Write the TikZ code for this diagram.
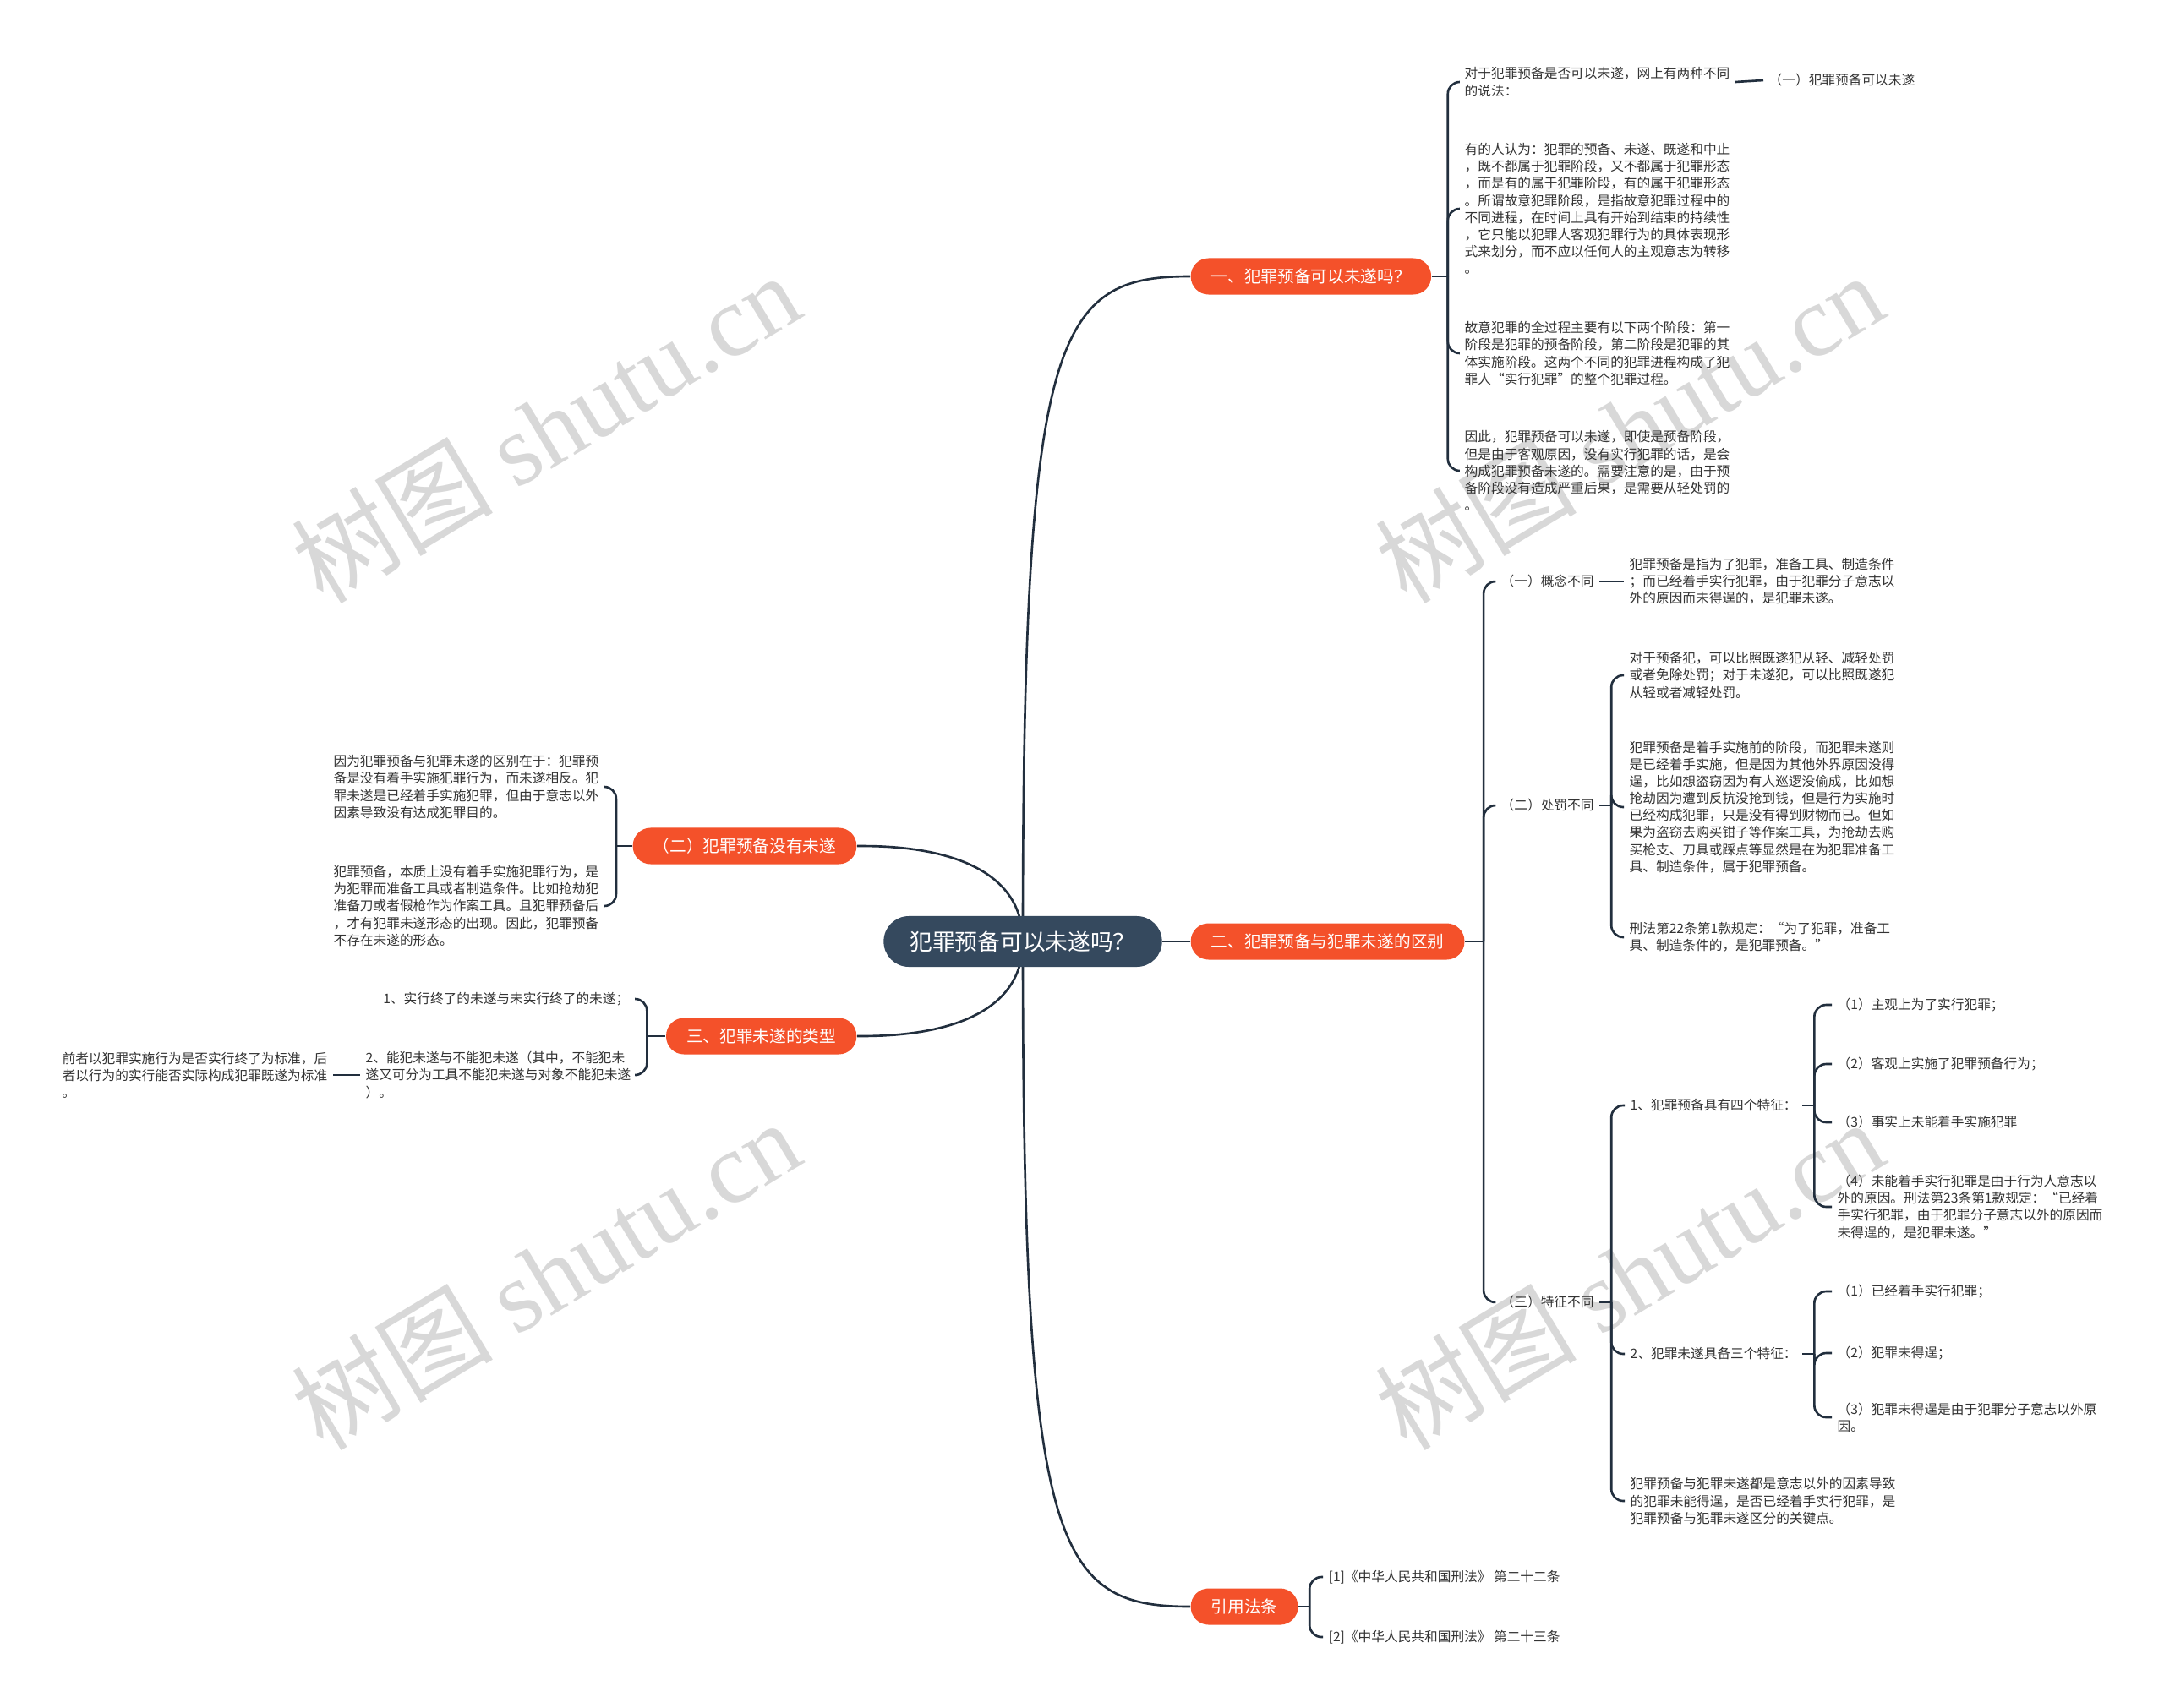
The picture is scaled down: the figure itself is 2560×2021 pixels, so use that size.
\documentclass[tikz,border=0pt]{standalone}
\usepackage{fontspec}
\setmainfont{Noto Sans CJK SC}
\newfontfamily\wmserif{Liberation Serif}
\usetikzlibrary{calc,backgrounds}
\definecolor{rootcol}{RGB}{53,73,94}
\definecolor{topiccol}{RGB}{244,81,42}
\definecolor{linecol}{RGB}{34,47,62}
\definecolor{textcol}{RGB}{51,51,51}
\definecolor{wmcol}{RGB}{216,216,216}
\tikzset{
  rootnode/.style={fill=rootcol,text=white,rounded corners=8.5pt,minimum height=0.6cm,inner xsep=0.31cm,font=\fontsize{7.6}{9}\selectfont},
  topicnode/.style={fill=topiccol,text=white,rounded corners=6pt,minimum height=0.43cm,inner xsep=0.24cm,font=\fontsize{5.6}{7}\selectfont},
  leaf/.style={align=left,inner xsep=0.06cm,inner ysep=0.02cm,text=textcol,font=\fontsize{4.46}{5.72}\selectfont},
  link/.style={draw=linecol,line width=0.75pt},
  brace/.style={link,rounded corners=4pt},
  watermark/.style={text=wmcol,rotate=31,inner sep=0,font=\fontsize{34}{40}\selectfont}
}
\begin{document}
\begin{tikzpicture}[x=0.01cm,y=-0.01cm]
\useasboundingbox (0,0) rectangle (2560,2021);
% central topic and main branches
\node[rootnode] (root) at (1210,1114) {犯罪预备可以未遂吗？};
\node[topicnode,anchor=west] (n1) at (1408,327) {一、犯罪预备可以未遂吗？};
\node[topicnode,anchor=west] (n2) at (1408,1114) {二、犯罪预备与犯罪未遂的区别};
\node[topicnode,anchor=east] (n3) at (1014,1001) {（二）犯罪预备没有未遂};
\node[topicnode,anchor=east] (n4) at (1014,1226) {三、犯罪未遂的类型};
\node[topicnode,anchor=west] (n5) at (1408,1901) {引用法条};
% branch one
\node[leaf,anchor=west] (a1) at (1726,97) {对于犯罪预备是否可以未遂，网上有两种不同\\的说法：};
\node[leaf,anchor=west] (a11) at (2086,95) {（一）犯罪预备可以未遂};
\node[leaf,anchor=west] (a2) at (1726,247) {有的人认为：犯罪的预备、未遂、既遂和中止\\，既不都属于犯罪阶段，又不都属于犯罪形态\\，而是有的属于犯罪阶段，有的属于犯罪形态\\。所谓故意犯罪阶段，是指故意犯罪过程中的\\不同进程，在时间上具有开始到结束的持续性\\，它只能以犯罪人客观犯罪行为的具体表现形\\式来划分，而不应以任何人的主观意志为转移\\。};
\node[leaf,anchor=west] (a3) at (1726,418) {故意犯罪的全过程主要有以下两个阶段：第一\\阶段是犯罪的预备阶段，第二阶段是犯罪的其\\体实施阶段。这两个不同的犯罪进程构成了犯\\罪人“实行犯罪”的整个犯罪过程。};
\node[leaf,anchor=west] (a4) at (1726,557) {因此，犯罪预备可以未遂，即使是预备阶段，\\但是由于客观原因，没有实行犯罪的话，是会\\构成犯罪预备未遂的。需要注意的是，由于预\\备阶段没有造成严重后果，是需要从轻处罚的\\。};
% branch two
\node[leaf,anchor=west] (b1) at (1769,688) {（一）概念不同};
\node[leaf,anchor=west] (b11) at (1921,688) {犯罪预备是指为了犯罪，准备工具、制造条件\\；而已经着手实行犯罪，由于犯罪分子意志以\\外的原因而未得逞的，是犯罪未遂。};
\node[leaf,anchor=west] (b2) at (1769,953) {（二）处罚不同};
\node[leaf,anchor=west] (b21) at (1921,799) {对于预备犯，可以比照既遂犯从轻、减轻处罚\\或者免除处罚；对于未遂犯，可以比照既遂犯\\从轻或者减轻处罚。};
\node[leaf,anchor=west] (b22) at (1921,955) {犯罪预备是着手实施前的阶段，而犯罪未遂则\\是已经着手实施，但是因为其他外界原因没得\\逞，比如想盗窃因为有人巡逻没偷成，比如想\\抢劫因为遭到反抗没抢到钱，但是行为实施时\\已经构成犯罪，只是没有得到财物而已。但如\\果为盗窃去购买钳子等作案工具，为抢劫去购\\买枪支、刀具或踩点等显然是在为犯罪准备工\\具、制造条件，属于犯罪预备。};
\node[leaf,anchor=west] (b23) at (1921,1109) {刑法第22条第1款规定：“为了犯罪，准备工\\具、制造条件的，是犯罪预备。”};
\node[leaf,anchor=west] (b3) at (1769,1541) {（三）特征不同};
\node[leaf,anchor=west] (b31) at (1922,1308) {1、犯罪预备具有四个特征：};
\node[leaf,anchor=west] (b311) at (2167,1189) {（1）主观上为了实行犯罪；};
\node[leaf,anchor=west] (b312) at (2167,1259) {（2）客观上实施了犯罪预备行为；};
\node[leaf,anchor=west] (b313) at (2167,1328) {（3）事实上未能着手实施犯罪};
\node[leaf,anchor=west] (b314) at (2167,1428) {（4）未能着手实行犯罪是由于行为人意志以\\外的原因。刑法第23条第1款规定：“已经着\\手实行犯罪，由于犯罪分子意志以外的原因而\\未得逞的，是犯罪未遂。”};
\node[leaf,anchor=west] (b32) at (1922,1602) {2、犯罪未遂具备三个特征：};
\node[leaf,anchor=west] (b321) at (2167,1528) {（1）已经着手实行犯罪；};
\node[leaf,anchor=west] (b322) at (2167,1601) {（2）犯罪未得逞；};
\node[leaf,anchor=west] (b323) at (2167,1677) {（3）犯罪未得逞是由于犯罪分子意志以外原\\因。};
\node[leaf,anchor=west] (b33) at (1922,1776) {犯罪预备与犯罪未遂都是意志以外的因素导致\\的犯罪未能得逞，是否已经着手实行犯罪，是\\犯罪预备与犯罪未遂区分的关键点。};
% left branches
\node[leaf,anchor=east] (c1) at (715,931) {因为犯罪预备与犯罪未遂的区别在于：犯罪预\\备是没有着手实施犯罪行为，而未遂相反。犯\\罪未遂是已经着手实施犯罪，但由于意志以外\\因素导致没有达成犯罪目的。};
\node[leaf,anchor=east] (c2) at (715,1072) {犯罪预备，本质上没有着手实施犯罪行为，是\\为犯罪而准备工具或者制造条件。比如抢劫犯\\准备刀或者假枪作为作案工具。且犯罪预备后\\，才有犯罪未遂形态的出现。因此，犯罪预备\\不存在未遂的形态。};
\node[leaf,anchor=east] (d1) at (751,1182) {1、实行终了的未遂与未实行终了的未遂；};
\node[leaf,anchor=east] (d2) at (753,1272) {2、能犯未遂与不能犯未遂（其中，不能犯未\\遂又可分为工具不能犯未遂与对象不能犯未遂\\）。};
\node[leaf,anchor=east] (d21) at (394,1272) {前者以犯罪实施行为是否实行终了为标准，后\\者以行为的实行能否实际构成犯罪既遂为标准\\。};
% references
\node[leaf,anchor=west] (e1) at (1565,1866) {[1]《中华人民共和国刑法》 第二十二条};
\node[leaf,anchor=west] (e2) at (1565,1937) {[2]《中华人民共和国刑法》 第二十三条};
% connectors behind the nodes
\begin{scope}[on background layer]
\fill[white] (0,0) rectangle (2560,2021);
\foreach \p/\q/\k in {645/506/1,1927/506/2,645/1508/3,1927/1508/4}
  \node[watermark] (wm\k) at (\p,\q) {树图 {\wmserif shutu.cn}};
\draw[link] (root.center) .. controls +(0,-720) and +(-160,0) .. (n1.west);
\draw[link] (root.east) -- (n2.west);
\draw[link] (root.center) .. controls +(0,-113) and +(40,0) .. (n3.east);
\draw[link] (root.center) .. controls +(0,112) and +(40,0) .. (n4.east);
\draw[link] (root.center) .. controls +(0,720) and +(-160,0) .. (n5.west);
% brackets
\coordinate (j1) at ($(n1.east)+(19,0)$);
\coordinate (j2) at ($(n2.east)+(22,0)$);
\coordinate (j3) at ($(n3.west)+(-19,0)$);
\coordinate (j4) at ($(n4.west)+(-22,0)$);
\coordinate (j5) at ($(n5.east)+(13,0)$);
\coordinate (jb2) at ($(b2.east)+(14,0)$);
\coordinate (jb3) at ($(b3.east)+(14,0)$);
\coordinate (jb31) at ($(b31.east)+(14,0)$);
\coordinate (jb32) at ($(b32.east)+(14,0)$);
\draw[link] (n1.east) -- (j1);
\foreach \c in {a1,a2,a3,a4} \draw[brace] (j1) |- (\c.west);
\draw[link] (a1.east) -- (a11.west);
\draw[link] (n2.east) -- (j2);
\foreach \c in {b1,b2,b3} \draw[brace] (j2) |- (\c.west);
\draw[link] (b1.east) -- (b11.west);
\draw[link] (b2.east) -- (jb2);
\foreach \c in {b21,b22,b23} \draw[brace] (jb2) |- (\c.west);
\draw[link] (b3.east) -- (jb3);
\foreach \c in {b31,b32,b33} \draw[brace] (jb3) |- (\c.west);
\draw[link] (b31.east) -- (jb31);
\foreach \c in {b311,b312,b313,b314} \draw[brace] (jb31) |- (\c.west);
\draw[link] (b32.east) -- (jb32);
\foreach \c in {b321,b322,b323} \draw[brace] (jb32) |- (\c.west);
\draw[link] (n3.west) -- (j3);
\foreach \c in {c1,c2} \draw[brace] (j3) |- (\c.east);
\draw[link] (n4.west) -- (j4);
\foreach \c in {d1,d2} \draw[brace] (j4) |- (\c.east);
\draw[link] (d2.west) -- (d21.east);
\draw[link] (n5.east) -- (j5);
\foreach \c in {e1,e2} \draw[brace] (j5) |- (\c.west);
\end{scope}
\end{tikzpicture}
\end{document}
